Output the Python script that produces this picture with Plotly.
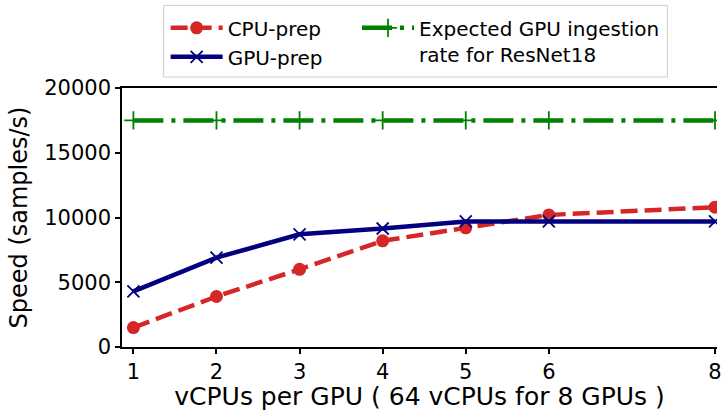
import plotly.graph_objects as go

# vCPUs per GPU
vcpus = [1, 2, 3, 4, 5, 6, 8]
x_ticks = [1, 2, 3, 4, 5, 6, 8]
y_ticks = [0, 5000, 10000, 15000, 20000]

# Throughput in samples/s
cpu_prep = [1500, 3900, 6000, 8200, 9200, 10200, 10800]
gpu_prep = [4300, 6900, 8700, 9150, 9700, 9700, 9700]
resnet18_rate = [17500, 17500, 17500, 17500, 17500, 17500, 17500]

FONT = "DejaVu Sans"
W, H = 722, 411
ML, MR, MT, MB = 122, 0, 88, 63
PW, PH = W - ML - MR, H - MT - MB


def px_x(p):
    return (p - ML) / PW


def px_y(p):
    return (H - MB - p) / PH


fig = go.Figure()

fig.add_trace(go.Scatter(
    x=vcpus, y=resnet18_rate, mode="lines+markers",
    name="Expected GPU ingestion<br>rate for ResNet18",
    line=dict(color="#008000", width=4.5, dash="30px,8px,4px,8px"),
    marker=dict(symbol="cross-thin", size=13, line=dict(color="#008000", width=1.8)),
    legend="legend2",
))
fig.add_trace(go.Scatter(
    x=vcpus, y=cpu_prep, mode="lines+markers", name="CPU-prep",
    line=dict(color="#d62728", width=4.5, dash="17px,7px"),
    marker=dict(symbol="circle", size=13, color="#d62728"),
    legend="legend", legendrank=1,
))
fig.add_trace(go.Scatter(
    x=vcpus, y=gpu_prep, mode="lines+markers", name="GPU-prep",
    line=dict(color="#000080", width=4.5),
    marker=dict(symbol="x-thin", size=12, line=dict(color="#000080", width=1.8)),
    legend="legend", legendrank=2,
))

# legend frame spanning both legend columns
fig.add_shape(
    type="rect", xref="paper", yref="paper",
    x0=px_x(164), x1=px_x(672), y0=px_y(77), y1=px_y(5),
    line=dict(color="#cccccc", width=1), fillcolor="rgba(255,255,255,0.8)",
    layer="above",
)

axis_common = dict(
    showline=True, linecolor="black", linewidth=1.5,
    ticks="outside", ticklen=5, tickwidth=1.5, tickcolor="black",
    showgrid=False, zeroline=False,
    tickfont=dict(family=FONT, size=21, color="black"),
)

fig.update_layout(
    width=W, height=H,
    margin=dict(l=ML, r=MR, t=MT, b=MB),
    paper_bgcolor="white", plot_bgcolor="white",
    font=dict(family=FONT, color="black"),
    xaxis=dict(
        **axis_common, mirror=True, ticklabeloverflow="allow",
        range=[1 - 11.5 / 83.79, 8 + 2 / 83.79],
        tickmode="array", tickvals=x_ticks, ticktext=[str(t) for t in x_ticks],
        title=dict(text="vCPUs per GPU ( 64 vCPUs for 8 GPUs )",
                   font=dict(family=FONT, size=25, color="black"), standoff=10),
    ),
    yaxis=dict(
        **axis_common,
        range=[0, 20000],
        tickmode="array", tickvals=y_ticks, ticktext=[str(t) for t in y_ticks],
        title=dict(text="Speed (samples/s)",
                   font=dict(family=FONT, size=24, color="black"), standoff=10),
    ),
    legend=dict(
        x=px_x(166), y=px_y(8), xanchor="left", yanchor="top",
        bgcolor="rgba(0,0,0,0)", borderwidth=0, itemwidth=52,
        font=dict(family=FONT, size=20, color="black"),
        traceorder="normal", tracegroupgap=0,
    ),
    legend2=dict(
        x=px_x(359), y=px_y(8), xanchor="left", yanchor="top",
        bgcolor="rgba(0,0,0,0)", borderwidth=0, itemwidth=52, valign="top",
        font=dict(family=FONT, size=20, color="black"),
    ),
    showlegend=True,
)

fig.write_html("out.html")
